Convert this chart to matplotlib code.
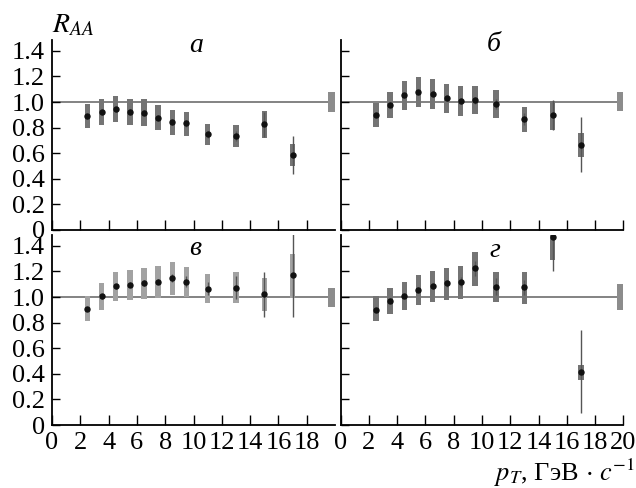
import matplotlib
matplotlib.use("Agg")
import matplotlib.pyplot as plt
import numpy as np

plt.rcParams['font.family'] = ['Liberation Serif', 'DejaVu Serif']
plt.rcParams['mathtext.fontset'] = 'stix'

pt = [2.5, 3.5, 4.5, 5.5, 6.5, 7.5, 8.5, 9.5, 11, 13, 15, 17]

val_a = [0.888, 0.919, 0.945, 0.922, 0.917, 0.878, 0.844, 0.833, 0.747, 0.734, 0.826, 0.586]
lo_a = [0.794, 0.82, 0.841, 0.82, 0.813, 0.78, 0.745, 0.737, 0.667, 0.651, 0.721, 0.50]
hi_a = [0.982, 1.021, 1.044, 1.023, 1.021, 0.979, 0.94, 0.919, 0.831, 0.818, 0.93, 0.672]
stat_a = [0.02, 0.02, 0.02, 0.02, 0.02, 0.02, 0.025, 0.025, 0.03, 0.04, 0.098, 0.147]

val_b = [0.898, 0.979, 1.052, 1.076, 1.065, 1.029, 1.01, 1.013, 0.984, 0.867, 0.898, 0.667]
lo_b = [0.802, 0.875, 0.94, 0.958, 0.945, 0.914, 0.893, 0.904, 0.878, 0.768, 0.781, 0.573]
hi_b = [0.995, 1.081, 1.164, 1.193, 1.177, 1.141, 1.122, 1.122, 1.091, 0.963, 1.008, 0.760]
stat_b = [0.015, 0.02, 0.02, 0.02, 0.02, 0.02, 0.025, 0.03, 0.04, 0.05, 0.12, 0.217]

val_c = [0.908, 1.005, 1.083, 1.096, 1.11, 1.12, 1.149, 1.12, 1.065, 1.073, 1.02, 1.172]
lo_c = [0.814, 0.898, 0.966, 0.974, 0.984, 0.995, 1.015, 0.997, 0.95, 0.953, 0.89, 0.995]
hi_c = [1.008, 1.111, 1.198, 1.211, 1.229, 1.243, 1.276, 1.237, 1.18, 1.193, 1.146, 1.339]
stat_c = [0.015, 0.02, 0.02, 0.02, 0.02, 0.02, 0.03, 0.045, 0.05, 0.09, 0.178, 0.33]

val_d = [0.901, 0.971, 1.01, 1.057, 1.083, 1.107, 1.115, 1.224, 1.081, 1.075, 1.467, 0.418]
lo_d = [0.809, 0.864, 0.898, 0.94, 0.961, 0.979, 0.987, 1.089, 0.961, 0.948, 1.287, 0.355]
hi_d = [1.005, 1.073, 1.117, 1.172, 1.2, 1.227, 1.24, 1.352, 1.196, 1.196, 1.65, 0.472]
stat_d = [0.015, 0.02, 0.02, 0.02, 0.02, 0.03, 0.04, 0.06, 0.065, 0.06, 0.267, 0.326]

norm_lo = [0.92, 0.93, 0.92, 0.90]
norm_hi = [1.08, 1.08, 1.07, 1.10]

labels = ['а', 'б', 'в', 'г']
label_pos = [(10.2, 1.44), (10.8, 1.45), (10.1, 1.38), (10.9, 1.36)]
box_colors = ['#747474', '#747474', '#a2a2a2', '#747474']

yticks = [0, 0.2, 0.4, 0.6, 0.8, 1.0, 1.2, 1.4]
yticklabels = ['0', '0.2', '0.4', '0.6', '0.8', '1.0', '1.2', '1.4']

W, H = 636, 488
fig = plt.figure(figsize=(W / 100, H / 100), dpi=100)

lefts = [52 / W, 340.7 / W]
widths = [283 / W, 282.6 / W]
bottoms = [1 - 230 / H, 1 - 425 / H]
height = 190 / H

data = [(val_a, lo_a, hi_a, stat_a), (val_b, lo_b, hi_b, stat_b),
        (val_c, lo_c, hi_c, stat_c), (val_d, lo_d, hi_d, stat_d)]

fs = 19
for i in range(4):
    r, c = divmod(i, 2)
    ax = fig.add_axes([lefts[c], bottoms[r], widths[c], height])
    v, lo, hi, st = data[i]
    ax.axhline(1.0, color='#7a7a7a', lw=1.3, zorder=1)
    ax.bar(pt, np.array(hi) - np.array(lo), bottom=lo, width=0.38,
           color=box_colors[i], edgecolor='none', zorder=2)
    ax.vlines(pt, np.array(v) - np.array(st), np.array(v) + np.array(st),
              color='#555555', lw=1.0, zorder=3)
    ax.plot(pt, v, 'o', color='#111111', ms=3.6, zorder=4)
    ax.bar([19.77], [norm_hi[i] - norm_lo[i]], bottom=[norm_lo[i]], width=0.46,
           color='#8c8c8c', edgecolor='none', zorder=2)
    ax.set_xlim(0, 20)
    ax.set_ylim(0, 1.485)
    for s in ['top', 'right']:
        ax.spines[s].set_visible(False)
    for s in ['left', 'bottom']:
        ax.spines[s].set_linewidth(1.3)
    if c == 0:
        ax.set_xticks(np.arange(0, 19, 2))
    else:
        ax.set_xticks(np.arange(0, 21, 2))
    ax.set_yticks(yticks)
    ax.tick_params(axis='x', direction='in', length=7.2, width=1.0, pad=5, labelsize=fs)
    ax.tick_params(axis='y', direction='in', length=5.8, width=1.0, pad=5, labelsize=fs)
    if c == 0:
        ax.set_yticklabels(yticklabels)
    else:
        ax.set_yticklabels([])
    if r == 0:
        ax.set_xticklabels([])
    ax.text(label_pos[i][0], label_pos[i][1], labels[i], fontsize=20,
            style='italic', ha='center', va='center')

fig.text(52 / W, 1 - 32 / H, r'$R_{AA}$', fontsize=20, ha='left', va='baseline')
fig.text(0.998, 1 - 481 / H, r'$p_T$, ГэВ$\,\cdot\,c^{-1}$', fontsize=19,
         ha='right', va='baseline')

fig.savefig('out.png', dpi=100)
